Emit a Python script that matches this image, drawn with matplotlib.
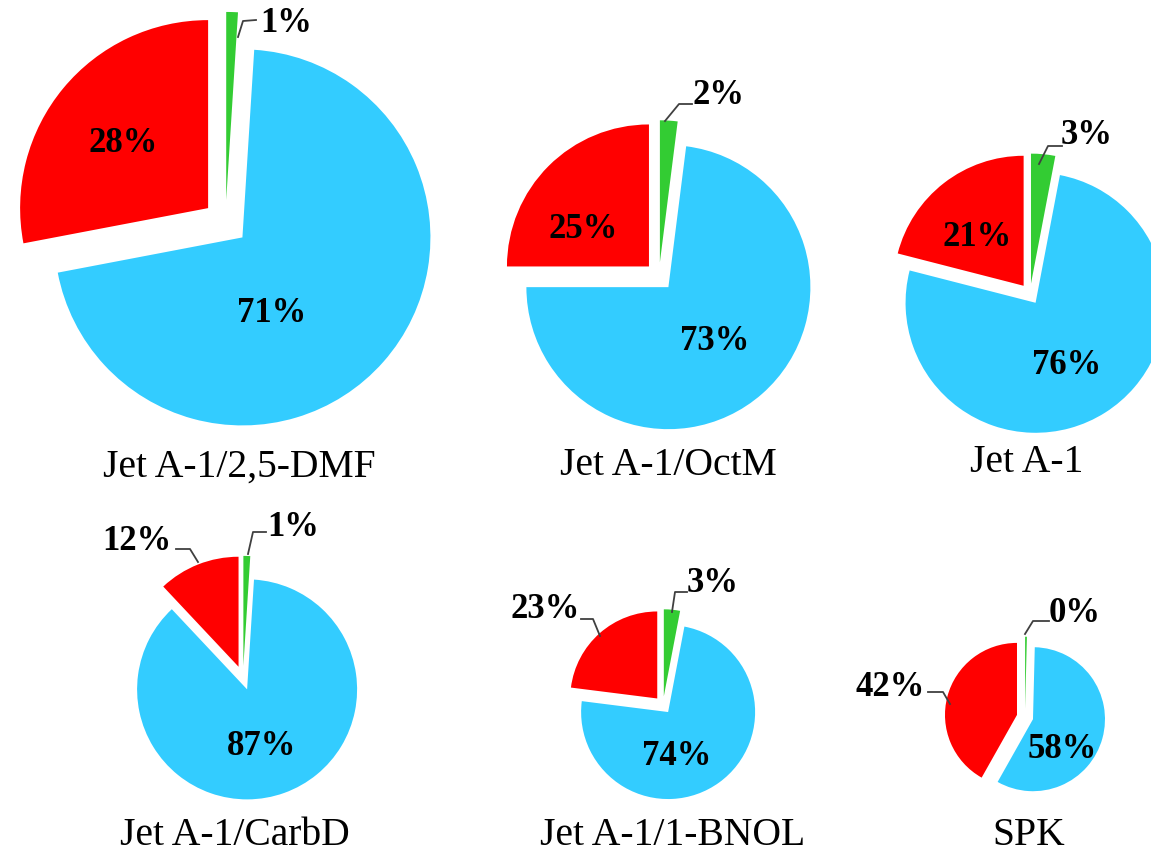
import matplotlib.pyplot as plt

# fuel blends and the share of each part (blue / red / green)
names = ['Jet A-1/2,5-DMF', 'Jet A-1/OctM', 'Jet A-1',
         'Jet A-1/CarbD', 'Jet A-1/1-BNOL', 'SPK']
blue = [71, 73, 76, 87, 74, 58]
red = [28, 25, 21, 12, 23, 42]
green = [1, 2, 3, 1, 3, 0.4]

colors = ['#33CC33', '#33CCFF', '#FF0000']   # green, blue, red (clockwise from 12 o'clock)

W, H = 1151, 853
# layout in picture pixels: pie centre, radius, explode (fraction of radius), title (x, baseline)
centres = [(225.5, 223.5), (659, 277.5), (1030, 295), (243, 679), (663, 706), (1025, 718)]
radii = [188, 142, 130, 110, 87, 72]
explodes = [0.12, 0.10, 0.08, 0.11, 0.10, 0.115]
titles_xy = [(239, 477), (668, 475), (1027, 472), (235, 845), (673, 845), (1029, 845)]
# label centres for green / blue / red, and leader line points (None = inside slice)
label_xy = [
    [(286, 23), (272, 313), (123, 143)],
    [(718, 96), (715, 342), (583, 230)],
    [(1087, 135), (1067, 365), (977, 238)],
    [(293, 527), (262, 747), (137, 542)],
    [(713, 583), (677, 757), (545, 609)],
    [(1075, 613), (1062, 750), (890, 688)],
]
leaders = [
    [[(238, 38), (243, 22), (256, 21)], None, None],
    [[(665, 122), (679, 105), (692, 105)], None, None],
    [[(1039, 165), (1048, 147), (1062, 147)], None, None],
    [[(248, 555), (253, 533), (266, 533)], None, [(198, 563), (190, 550), (176, 550)]],
    [[(672, 613), (675, 593), (687, 593)], None, [(600, 637), (593, 620), (581, 620)]],
    [[(1025, 635), (1033, 622), (1049, 622)], None, [(950, 705), (943, 693), (928, 693)]],
]

fig = plt.figure(figsize=(W / 100, H / 100), dpi=100)
ax = fig.add_axes([0, 0, 1, 1])

for i, name in enumerate(names):
    vals = [green[i], blue[i], red[i]]
    cx, cy = centres[i]
    ex = explodes[i] * radii[i]   # pie() takes explode in data units
    ax.pie(vals, colors=colors, startangle=90, counterclock=False,
           explode=[ex, ex, ex], center=(cx, H - cy), radius=radii[i],
           frame=True, wedgeprops=dict(linewidth=0))
    for v, (lx, ly), lead in zip(vals, label_xy[i], leaders[i]):
        ax.text(lx, H - ly, f'{v:.0f}%', ha='center', va='center',
                family='Liberation Serif', fontweight='bold', fontsize=25)
        if lead:
            ax.plot([p[0] for p in lead], [H - p[1] for p in lead],
                    color='#404040', lw=1.3)
    tx, ty = titles_xy[i]
    ax.text(tx, H - ty, name, ha='center', va='baseline',
            family='Liberation Serif', fontsize=28.5)

ax.set_xlim(0, W)
ax.set_ylim(0, H)
ax.set_aspect('equal')
ax.axis('off')
fig.savefig('out.png', dpi=100)
